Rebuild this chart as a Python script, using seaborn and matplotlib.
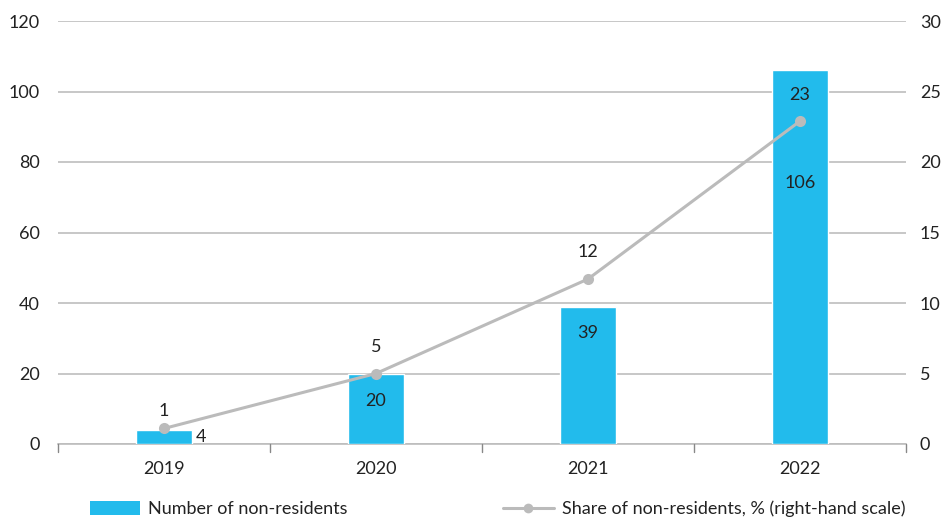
import matplotlib
matplotlib.use("Agg")
import matplotlib.pyplot as plt
from matplotlib.lines import Line2D
from matplotlib.patches import Patch
import seaborn as sns
import pandas as pd
import numpy as np

years = ["2019", "2020", "2021", "2022"]
counts = [4, 20, 39, 106]
share = [1.1, 5.0, 11.7, 22.9]

bar_color = "#22BBEC"
line_color = "#BBBBBB"
grid_color = "#BDBDBD"
text_color = "#222222"
fs = 13

sns.set_theme(style="white")
plt.rcParams["font.family"] = ["Lato", "DejaVu Sans"]
plt.rcParams["font.size"] = fs

df = pd.DataFrame({"year": years, "count": counts, "share": share})

fig = plt.figure(figsize=(9.44, 5.18), dpi=100)
ax = fig.add_axes([58 / 944, 1 - 444 / 518, 848 / 944, 423 / 518])

sns.barplot(data=df, x="year", y="count", color=bar_color, width=0.26,
            saturation=1, ax=ax, zorder=3)
ax.set_ylim(0, 120)
ax.set_xlim(-0.5, 3.5)
ax.set_yticks(range(0, 121, 20))
ax.yaxis.grid(True, color=grid_color, linewidth=1.2, zorder=0)
ax.set_axisbelow(True)
for s in ["top", "right", "left"]:
    ax.spines[s].set_visible(False)
ax.spines["bottom"].set_color(grid_color)
ax.spines["bottom"].set_linewidth(1.2)
ax.set_xlabel("")
ax.set_ylabel("")
ax.tick_params(axis="y", length=0, pad=13, labelsize=fs, labelcolor=text_color)
ax.tick_params(axis="x", length=0, pad=12, labelsize=fs, labelcolor=text_color)

# category boundary tick marks below the axis
for b in np.arange(-0.5, 4.0, 1.0):
    ax.plot([b, b], [0, -2.2], color="#888888", linewidth=1, clip_on=False, zorder=4)

ax2 = ax.twinx()
sns.lineplot(x=np.arange(len(years)), y=share, color=line_color, linewidth=2.2,
             marker="o", markersize=8, markeredgewidth=0, ax=ax2, zorder=5)
ax2.set_ylim(0, 30)
ax2.set_yticks(range(0, 31, 5))
for s in ["top", "right", "left", "bottom"]:
    ax2.spines[s].set_visible(False)
ax2.tick_params(axis="y", length=0, pad=10, labelsize=fs, labelcolor=text_color)
ax2.set_ylabel("")

# bar value labels
bar_offsets = [None, -27, -26, -113]
for i, (v, off) in enumerate(zip(counts, bar_offsets)):
    if off is None:
        ax.annotate(f"{v}", (i + 0.13, v / 2), xytext=(3, 0), textcoords="offset points",
                    ha="left", va="center", fontsize=fs, color=text_color)
    else:
        ax.annotate(f"{v}", (i, v), xytext=(0, off * 0.72), textcoords="offset points",
                    ha="center", va="center", fontsize=fs, color=text_color)

# line value labels
line_offsets = [17, 26, 27, 26]
for i, (v, off) in enumerate(zip(share, line_offsets)):
    ax2.annotate(f"{v:.0f}", (i, v), xytext=(0, off * 0.72), textcoords="offset points",
                 ha="center", va="center", fontsize=fs, color=text_color)

handles = [
    Patch(facecolor=bar_color, edgecolor="none", label="Number of non-residents"),
    Line2D([0], [0], color=line_color, linewidth=2.2, marker="o", markersize=7,
           markeredgewidth=0, label="Share of non-residents, % (right-hand scale)"),
]
leg = fig.legend(handles=handles, loc="lower center", ncol=2, frameon=False,
                 bbox_to_anchor=(0.527, -0.03), fontsize=fs, columnspacing=8.6,
                 handlelength=2.8, handleheight=0.85, handletextpad=0.45)
for t in leg.get_texts():
    t.set_color(text_color)

fig.savefig("out.png", dpi=100)
